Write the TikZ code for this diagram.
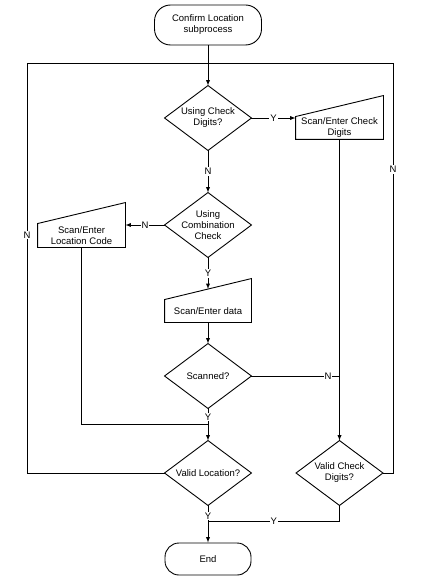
\documentclass[tikz,border=0pt]{standalone}
\usepackage{fontspec}
\setmainfont{Liberation Sans}
\usetikzlibrary{arrows}
\tikzstyle{terminal}=[rectangle, draw
,rounded corners=16pt
,align=center
,inner sep=0pt
]
\tikzstyle{decision}=[rectangle, minimum width=86pt, minimum height=64pt, align=center, inner sep=0pt]
\tikzstyle{manual}=[rectangle, minimum width=87pt, minimum height=22pt, align=center, inner sep=0pt]
\tikzstyle{flow} = [draw,-latex]
\tikzstyle{link} = [draw,-]
\tikzstyle{yn} = [fill=white, inner sep=1pt]

\begin{document}
\begin{tikzpicture}[x=1pt,y=-1pt,line width=0.9pt,font=\fontsize{9.5}{11}\selectfont]
    \useasboundingbox (0,0) rectangle (424,588);
    % Start and end of the subprocess
    \node[terminal, minimum width=107pt, minimum height=40pt] (start) at (208,25) {Confirm Location\\subprocess};
    \node[terminal, minimum width=86pt, minimum height=32pt, rounded corners=14pt] (finish) at (208,559) {End};

    % Then the decisions
    \foreach \pos/\name/\txt in {{(208,118)/chkq/{Using Check\\Digits?}}, {(208,225)/combq/{Using\\Combination\\Check}}, {(208,376)/scanq/{Scanned?}}, {(208,473)/locq/{Valid Location?}}, {(339.5,473)/validq/{Valid Check\\Digits?}}}
        \node[decision] (\name) at \pos {\txt};
    \foreach \name in {chkq,combq,scanq,locq,validq}
        \draw (\name.north) -- (\name.east) -- (\name.south) -- (\name.west) -- cycle;

    % Manual inputs
    \node[manual] (chk) at (339.5,128) {Scan/Enter Check\\Digits};
    \node[manual, minimum height=23pt] (loc) at (81.5,235.5) {Scan/Enter\\Location Code};
    \node[manual, minimum width=86pt] (data) at (208,311) {Scan/Enter data};
    \foreach \name in {chk,loc,data}
        \draw (\name.south west) -- (\name.south east) -- ([yshift=21pt]\name.north east) -- (\name.north west) -- cycle;

    % Bends of the connectors
    \coordinate (join) at (208,63);
    \coordinate (lt) at (27,63);
    \coordinate (lb) at (27,473);
    \coordinate (rt) at (393,63);
    \coordinate (rb) at (393,473);
    \coordinate (merge) at (208,424);
    \coordinate (lbend) at (81.5,424);
    \coordinate (ybend) at (339.5,521);
    \coordinate (ymerge) at (208,521);
    \coordinate (scanr) at (339.5,376);
    \coordinate (datatop) at ([yshift=10.5pt]data.north);

    % Connect them
    \path[flow] (start.south) -- (chkq.north);
    \path[link] (locq.west) -- (lb) -- node[yn,pos=0.58] {N} (lt) -- (join);
    \path[link] (validq.east) -- (rb) -- node[yn,pos=0.74] {N} (rt) -- (join);
    \path[flow] (chkq.east) -- node[yn] {Y} (chkq.east -| chk.west);
    \path[flow] (chkq.south) -- node[yn] {N} (combq.north);
    \path[flow] (combq.west) -- node[yn] {N} (combq.west -| loc.east);
    \path[flow] (combq.south) -- node[yn] {Y} (datatop);
    \path[flow] (data.south) -- (scanq.north);
    \path[link] (scanq.east) -- node[yn,pos=0.87] {N} (scanr);
    \path[flow] (chk.south) -- (validq.north);
    \path[flow] (scanq.south) -- node[yn,pos=0.27] {Y} (locq.north);
    \path[link] (loc.south) -- (lbend) -- (merge);
    \path[flow] (locq.south) -- node[yn,pos=0.29] {Y} (finish.north);
    \path[link] (validq.south) -- (ybend) -- node[yn] {Y} (ymerge);
\end{tikzpicture}
\end{document}
